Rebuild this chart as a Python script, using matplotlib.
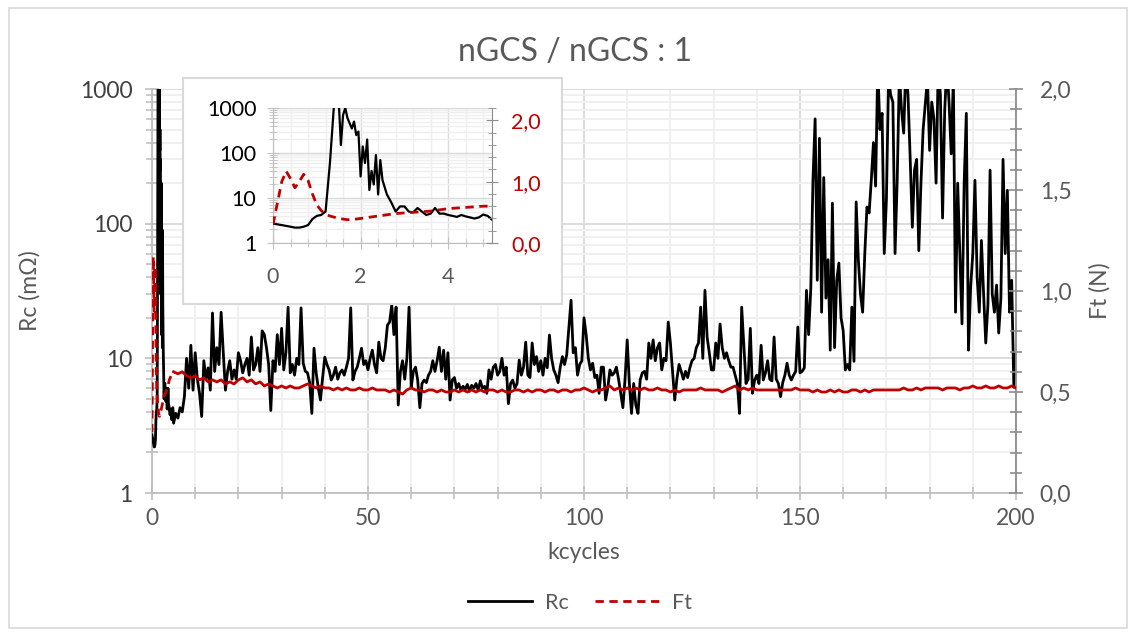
import numpy as np
import matplotlib
matplotlib.use("Agg")
import matplotlib.pyplot as plt
from matplotlib.patches import Rectangle
from matplotlib.lines import Line2D
from matplotlib.ticker import MultipleLocator, FixedLocator, FuncFormatter, LogLocator, NullFormatter

plt.rcParams['font.family'] = ['Lato', 'DejaVu Sans']

# ------------------------------------------------------------------
# data
# ------------------------------------------------------------------
TITLE = 'nGCS / nGCS : 1'

# first 5 kcycles (also shown in the inset)
kc_early = [0.0, 0.1, 0.2, 0.3, 0.4, 0.5, 0.6, 0.7, 0.8, 0.9, 1.0, 1.1, 1.2, 1.3, 1.4,
            1.5, 1.55, 1.6, 1.65, 1.7, 1.8, 1.85, 1.9, 1.95, 2.0, 2.05, 2.1, 2.15, 2.2,
            2.25, 2.3, 2.35, 2.4, 2.45, 2.5, 2.6, 2.7, 2.8, 2.9, 3.0, 3.1, 3.2, 3.3,
            3.4, 3.5, 3.6, 3.7, 3.8, 3.9, 4.0, 4.1, 4.2, 4.3, 4.4, 4.5, 4.6, 4.7, 4.8, 4.9]
rc_early = [2.7, 2.6, 2.5, 2.4, 2.3, 2.2, 2.2, 2.3, 2.5, 3.4, 4.0, 4.2, 5.0, 60, 1500,
            1500, 150, 700, 1000, 600, 350, 500, 250, 300, 30, 140, 60, 200, 15,
            40, 20, 90, 12, 70, 25, 12, 8, 5, 6.5, 6.5, 5, 4.8, 6,
            5, 4.2, 4.5, 6, 4.5, 4.5, 4.2, 4.0, 3.8, 4.2, 3.9, 3.7, 3.5, 3.7, 4.3, 4.0]

kc_ft_early = [0.0, 0.1, 0.2, 0.3, 0.4, 0.5, 0.6, 0.7, 0.8, 0.9, 1.0, 1.1, 1.2, 1.3, 1.4,
               1.5, 1.6, 1.7, 1.8, 1.9, 2.0, 2.2, 2.4, 2.6, 2.8, 3.0, 3.2, 3.4, 3.6,
               3.8, 4.0, 4.2, 4.4, 4.6, 4.8, 5.0]
ft_early = [0.30, 0.65, 1.00, 1.17, 1.05, 0.90, 1.00, 1.12, 1.02, 0.80, 0.62, 0.53, 0.47, 0.44, 0.42,
            0.40, 0.39, 0.38, 0.38, 0.39, 0.40, 0.42, 0.44, 0.46, 0.48, 0.49, 0.50, 0.51, 0.52,
            0.54, 0.56, 0.57, 0.58, 0.59, 0.60, 0.60]

# Rc from 5 to 200 kcycles, every 0.5 kcycle (one row = 10 kcycles)
rc_late = [
    3.3, 3.9, 3.6, 4.3, 4.0, 5.2, 10, 6.0, 12.5, 5.8,
    11, 7, 5.5, 3.7, 9.6, 7, 8.5, 5.8, 21.7, 8, 12, 9, 22, 11, 5.8, 8, 9.6, 7, 8.2, 7,
    11, 9.6, 7.8, 9, 10, 7.5, 14.4, 8.2, 9, 12, 8, 16, 15, 12, 9, 4.1, 9.6, 8, 15, 9,
    16.7, 8.2, 11, 24, 7.8, 9, 7.5, 10, 9, 23.7, 9.2, 8, 7.8, 6.6, 3.9, 11.9, 7.8, 6.0, 4.9, 7.2,
    10.2, 9, 8.2, 6.9, 7.5, 8.6, 7, 7.8, 8.2, 7.5, 8.6, 10, 23.7, 6.9, 8, 8.6, 10, 11.9, 9, 9.6,
    8.2, 10, 11.5, 9, 7.8, 13.2, 10, 9.6, 12, 17.6, 18.6, 25, 15, 24, 4.5, 8, 9.6, 7, 10, 24,
    6.1, 8, 8.6, 6.9, 4.3, 6.5, 6.9, 6.6, 7.5, 8, 9.6, 8, 9.6, 12.1, 8, 11.5, 7, 11, 4.9, 6.9,
    7.2, 6, 6.5, 5.8, 6.2, 5.9, 6.4, 5.7, 6.3, 6, 6.5, 5.8, 6.8, 6, 6.2, 5.5, 8.2, 7, 8.6, 9,
    7.5, 8, 10, 7.5, 8.6, 4.6, 6.5, 6.9, 6, 6.5, 9.7, 7.5, 8.6, 13.2, 7.5, 7.2, 13, 9, 10.3, 8,
    9.6, 7.5, 10, 8.5, 14.9, 10, 8.2, 7.5, 6.6, 8.6, 10.3, 9, 10.6, 17, 27, 11, 12, 7.5, 9, 9.6,
    20, 15, 10, 8.2, 9.2, 7.2, 7.5, 5.5, 8.6, 8.6, 4.9, 6, 8.2, 7.5, 7.8, 8.6, 7, 5.5, 4.3, 7,
    13.7, 6.5, 3.9, 6.5, 4.5, 3.9, 6.9, 7.8, 8, 7, 13, 10, 13.7, 9.6, 12, 13, 8.2, 10, 9.6, 18.6,
    13, 8, 4.9, 7, 9, 8, 7, 8, 7.2, 8.5, 9.6, 10, 12, 13, 24, 10, 32, 14.4, 11, 8.2,
    8.2, 13, 10, 18, 12, 10, 11, 9.6, 8.6, 8.6, 7.5, 6.5, 3.9, 24, 12.5, 6.5, 7, 16.7, 5.5, 6.9,
    7.5, 6.5, 12.5, 6.9, 7.8, 9.6, 7, 6.8, 14.4, 7, 6.5, 5.2, 6.6, 7.5, 9.2, 7.5, 6.9, 7.5, 8, 17.1,
    7.8, 8, 8.5, 32, 15, 33, 210, 600, 38, 430, 22, 220, 28, 54, 11.5, 142, 12, 38, 51, 20,
    16, 8.2, 9, 8.2, 24, 9.5, 145, 54, 30, 22, 60, 133, 120, 210, 400, 190, 1500, 500, 660, 60,
    150, 1200, 900, 800, 60, 210, 1300, 700, 470, 1500, 900, 310, 94, 250, 300, 63, 200, 500, 780, 1200,
    350, 800, 600, 200, 1500, 900, 110, 700, 1500, 800, 330, 1200, 22, 200, 60, 18, 200, 660, 11.5, 34,
    60, 210, 40, 22, 75, 30, 13, 25, 250, 30, 22, 35, 15.4, 28, 300, 60, 177, 22, 38, 6.1,
    11,
]

# Ft from 5 to 200 kcycles, every kcycle (one row = 10 kcycles)
ft_late = [
    0.60, 0.59, 0.60, 0.58, 0.57, 0.58, 0.56, 0.57, 0.55, 0.56,
    0.55, 0.56, 0.54, 0.55, 0.54, 0.56, 0.57, 0.55, 0.56, 0.54,
    0.55, 0.53, 0.54, 0.53, 0.52, 0.53, 0.52, 0.53, 0.52, 0.52,
    0.53, 0.54, 0.53, 0.52, 0.53, 0.52, 0.52, 0.51, 0.52, 0.51,
    0.52, 0.51, 0.51, 0.52, 0.51, 0.51, 0.52, 0.51, 0.51, 0.51,
    0.50, 0.51, 0.50, 0.49, 0.51, 0.52, 0.51, 0.51, 0.50, 0.51,
    0.51, 0.50, 0.51, 0.50, 0.50, 0.51, 0.50, 0.51, 0.50, 0.51,
    0.50, 0.51, 0.50, 0.51, 0.51, 0.50, 0.51, 0.50, 0.50, 0.51,
    0.51, 0.50, 0.51, 0.50, 0.51, 0.51, 0.50, 0.51, 0.51, 0.50,
    0.51, 0.51, 0.50, 0.51, 0.51, 0.52, 0.51, 0.50, 0.51, 0.51,
    0.52, 0.53, 0.51, 0.52, 0.51, 0.52, 0.51, 0.52, 0.51, 0.52,
    0.51, 0.51, 0.52, 0.51, 0.51, 0.50, 0.51, 0.50, 0.51, 0.51,
    0.51, 0.51, 0.52, 0.51, 0.51, 0.51, 0.51, 0.50, 0.51, 0.52,
    0.53, 0.51, 0.52, 0.51, 0.52, 0.51, 0.51, 0.51, 0.51, 0.51,
    0.51, 0.51, 0.51, 0.51, 0.52, 0.51, 0.51, 0.51, 0.50, 0.51,
    0.50, 0.50, 0.51, 0.50, 0.51, 0.50, 0.50, 0.51, 0.51, 0.50,
    0.51, 0.50, 0.51, 0.51, 0.51, 0.51, 0.51, 0.51, 0.51, 0.52,
    0.51, 0.51, 0.52, 0.51, 0.52, 0.52, 0.52, 0.52, 0.51, 0.52,
    0.52, 0.52, 0.51, 0.52, 0.52, 0.53, 0.52, 0.52, 0.53, 0.52,
    0.52, 0.53, 0.52, 0.52, 0.53, 0.52,
]

kc_rc_late = np.arange(len(rc_late)) * 0.5 + 5.0
kc_ft_late = np.arange(len(ft_late)) * 1.0 + 5.0

kc_rc = np.concatenate([kc_early, kc_rc_late])
rc = np.concatenate([rc_early, rc_late])

# ------------------------------------------------------------------
# style
# ------------------------------------------------------------------
W, H = 1134, 635
BLACK = '#000000'
RED = '#C00000'
TXT = '#595959'
GRID_MAJ = '#D9D9D9'
GRID_MIN = '#EFEFEF'

def fx(px):
    return px / W

def fy(py):
    return 1 - py / H

comma = FuncFormatter(lambda v, p: f"{v:.1f}".replace('.', ','))
plain = FuncFormatter(lambda v, p: f"{v:g}")

fig = plt.figure(figsize=(W / 100, H / 100), dpi=100)

# chart area border
fig.patches.append(Rectangle((fx(9), fy(628)), fx(1118), 620 / H, transform=fig.transFigure,
                             fill=False, ec='#D9D9D9', lw=1.2, zorder=0))

# ------------------------------------------------------------------
# main chart
# ------------------------------------------------------------------
ax = fig.add_axes([fx(152), fy(493), fx(864), 404 / H])
ax.set_yscale('log')
ax.set_xlim(0, 200)
ax.set_ylim(1, 1000)
ax.plot(kc_rc, rc, color=BLACK, lw=2.0, zorder=3)

ax.xaxis.set_major_locator(MultipleLocator(50))
ax.xaxis.set_minor_locator(MultipleLocator(10))
ax.yaxis.set_major_locator(FixedLocator([1, 10, 100, 1000]))
ax.yaxis.set_major_formatter(plain)
ax.yaxis.set_minor_locator(LogLocator(base=10, subs=np.arange(2, 10)))
ax.yaxis.set_minor_formatter(NullFormatter())
ax.grid(True, which='major', color=GRID_MAJ, lw=1.3)
ax.grid(True, which='minor', color=GRID_MIN, lw=1.3)
ax.set_axisbelow(True)
for s in ['top', 'right']:
    ax.spines[s].set_visible(False)
ax.spines['left'].set_color('#BFBFBF')
ax.spines['bottom'].set_color('#BFBFBF')
ax.spines['left'].set_linewidth(1.3)
ax.spines['bottom'].set_linewidth(1.3)
ax.tick_params(axis='both', which='both', direction='inout', color='#BFBFBF', width=1.2)
ax.tick_params(axis='both', which='major', length=10, labelsize=16.5)
ax.tick_params(axis='both', which='minor', length=8)
ax.tick_params(axis='y', labelcolor='#404040', pad=9)
ax.tick_params(axis='x', labelcolor=TXT, pad=6)
ax.set_xlabel('kcycles', fontsize=16.5, color=TXT, labelpad=9)
ax.set_ylabel('Rc (mΩ)', fontsize=16.5, color=TXT, labelpad=28)

ax2 = ax.twinx()
ax2.set_ylim(0, 2.0)
ax2.plot(kc_ft_early, ft_early, color=RED, lw=2.0, ls=(0, (3, 2)), zorder=4)
ax2.plot(kc_ft_late, ft_late, color=RED, lw=2.0, zorder=4)
ax2.yaxis.set_major_locator(MultipleLocator(0.5))
ax2.yaxis.set_minor_locator(MultipleLocator(0.1))
ax2.yaxis.set_major_formatter(comma)
for s in ['top', 'left', 'bottom']:
    ax2.spines[s].set_visible(False)
ax2.spines['right'].set_color('#8C8C8C')
ax2.spines['right'].set_linewidth(1.3)
ax2.tick_params(axis='y', which='both', direction='inout', color='#8C8C8C', width=1.2)
ax2.tick_params(axis='y', which='major', length=10, labelsize=16.5, labelcolor=TXT, pad=12)
ax2.tick_params(axis='y', which='minor', length=8)
ax2.set_ylabel('Ft (N)', fontsize=16.5, color=TXT, labelpad=13)

fig.suptitle(TITLE, x=fx(575), y=fy(52), va='center', fontsize=23, color=TXT)

# ------------------------------------------------------------------
# inset
# ------------------------------------------------------------------
fig.patches.append(Rectangle((fx(183), fy(304)), fx(379), 226 / H, transform=fig.transFigure,
                             fc='white', ec='#D9D9D9', lw=1.5, zorder=5))

axi = fig.add_axes([fx(273), fy(243), fx(219), 135 / H], zorder=6)
axi.set_yscale('log')
axi.set_xlim(0, 5)
axi.set_ylim(1, 1000)
axi.plot(kc_early + [5.0], rc_early + [rc_late[0]], color=BLACK, lw=1.6, zorder=3)
axi.xaxis.set_major_locator(MultipleLocator(2))
axi.xaxis.set_minor_locator(MultipleLocator(0.4))
axi.yaxis.set_major_locator(FixedLocator([1, 10, 100, 1000]))
axi.yaxis.set_major_formatter(plain)
axi.yaxis.set_minor_locator(LogLocator(base=10, subs=np.arange(2, 10)))
axi.yaxis.set_minor_formatter(NullFormatter())
axi.grid(True, which='major', color=GRID_MAJ, lw=1.0)
axi.grid(True, which='minor', color=GRID_MIN, lw=1.0)
axi.set_axisbelow(True)
for s in ['top', 'right']:
    axi.spines[s].set_visible(False)
axi.spines['left'].set_color('#BFBFBF')
axi.spines['bottom'].set_color('#BFBFBF')
axi.tick_params(axis='both', which='both', direction='inout', color='#BFBFBF')
axi.tick_params(axis='both', which='major', length=8, labelsize=15.5)
axi.tick_params(axis='both', which='minor', length=6)
axi.tick_params(axis='y', labelcolor='black', pad=8)
axi.tick_params(axis='x', labelcolor=TXT, pad=13)
axi.set_facecolor('none')

axi2 = axi.twinx()
axi2.set_zorder(7)
axi2.set_ylim(0, 2.2)
axi2.plot(kc_ft_early, ft_early, color=RED, lw=2.0, ls=(0, (3, 2)))
axi2.yaxis.set_major_locator(MultipleLocator(1.0))
axi2.yaxis.set_minor_locator(MultipleLocator(0.2))
axi2.yaxis.set_major_formatter(comma)
for s in ['top', 'left', 'bottom']:
    axi2.spines[s].set_visible(False)
axi2.spines['right'].set_color('#8C8C8C')
axi2.tick_params(axis='y', which='both', direction='inout', color='#8C8C8C')
axi2.tick_params(axis='y', which='major', length=8, labelsize=15.5, labelcolor=RED, pad=10)
axi2.tick_params(axis='y', which='minor', length=6)

# ------------------------------------------------------------------
# legend
# ------------------------------------------------------------------
handles = [Line2D([], [], color=BLACK, lw=2.0),
           Line2D([], [], color=RED, lw=2.0, ls=(0, (3, 2)))]
fig.legend(handles, ['Rc', 'Ft'], loc='center', bbox_to_anchor=(fx(580), fy(603)), ncol=2,
           frameon=False, fontsize=15.5, labelcolor=TXT, handlelength=3.0, columnspacing=1.2,
           handletextpad=0.6)

fig.savefig('out.png', dpi=100)
